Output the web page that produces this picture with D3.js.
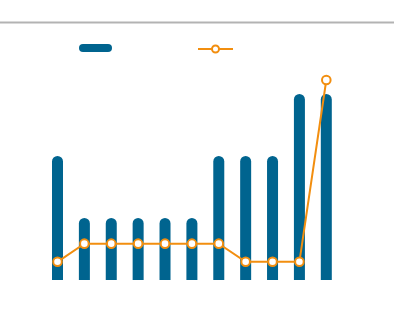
<!DOCTYPE html>
<html><head><meta charset="utf-8">
<script src="https://cdn.jsdelivr.net/npm/d3@7"></script>
<style>html,body{margin:0;padding:0;background:#fff;}svg{display:block;}</style>
</head><body>
<svg id="chart" width="400" height="329"></svg>
<script>
const categories = ["1","2","3","4","5","6","7","8","9","10","11"];
const barValues = [2,1,1,1,1,1,2,2,2,3,3];
const lineValues = [1,2,2,2,2,2,2,1,1,1,11];

const svg = d3.select("#chart");
const barColor = "#00648f", lineColor = "#f28e0f";

svg.append("line").attr("x1",0).attr("x2",394).attr("y1",22.5).attr("y2",22.5)
  .attr("stroke","#b3b3b3").attr("stroke-width",2);

// legend
svg.append("rect").attr("x",79).attr("y",44).attr("width",33).attr("height",8)
  .attr("rx",4).attr("fill",barColor);
svg.append("line").attr("x1",198).attr("x2",233).attr("y1",49).attr("y2",49)
  .attr("stroke",lineColor).attr("stroke-width",2);
svg.append("circle").attr("cx",215.5).attr("cy",49).attr("r",3.5)
  .attr("fill","#fff").attr("stroke",lineColor).attr("stroke-width",2);

const x = d3.scalePoint().domain(categories).range([57.5, 326.3]);
const yBar = d3.scaleLinear().domain([0,3]).range([280,94]);
const yLine = d3.scaleLinear().domain([0,11]).range([280,80]);
const bw = 11;

svg.append("g").selectAll("path").data(categories).join("path")
  .attr("fill", barColor)
  .attr("d", (c,i) => {
    const x0 = x(c) - bw/2, x1 = x(c) + bw/2, top = yBar(barValues[i]), bot = yBar(0), r = bw/2;
    return `M${x0},${bot}L${x0},${top+r}A${r},${r} 0 0 1 ${x1},${top+r}L${x1},${bot}Z`;
  });

const line = d3.line().x((d,i)=>x(categories[i])).y(d=>yLine(d));
svg.append("path").datum(lineValues).attr("d",line).attr("fill","none")
  .attr("stroke",lineColor).attr("stroke-width",2);
svg.append("g").selectAll("circle").data(lineValues).join("circle")
  .attr("cx",(d,i)=>x(categories[i])).attr("cy",d=>yLine(d)).attr("r",4.3)
  .attr("fill","#fff").attr("stroke",lineColor).attr("stroke-width",2);
</script>
</body></html>
